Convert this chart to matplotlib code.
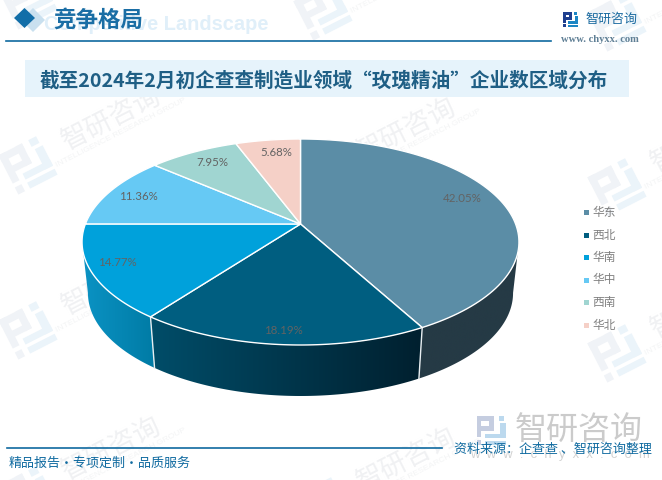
import numpy as np
import matplotlib
matplotlib.use('Agg')
import matplotlib.pyplot as plt
from matplotlib.colors import LinearSegmentedColormap
from matplotlib.patches import Polygon, Rectangle

plt.rcParams['font.family'] = ['Noto Sans CJK SC', 'DejaVu Sans']

# data
regions = ['华东', '西北', '华南', '华中', '西南', '华北']
shares = [42.05, 18.19, 14.77, 11.36, 7.95, 5.68]
top_colors = ['#5b8da6', '#005e80', '#00a1db', '#66c9f4', '#a0d5d1', '#f5d0c7']
title = '截至2024年2月初企查查制造业领域“玫瑰精油”企业数区域分布'
source = '资料来源：企查查 、智研咨询整理'
slogan = '精品报告·专项定制·品质服务'

# pie layout, in pixels of the reference
apex = (300.5, 224)
disc_a, disc_b, disc_k = 215.1, 99.86, -0.1747
depth = 51
bottom_scale = 0.973
label_xy = [(462, 198), (283, 331), (117, 263), (138, 197), (212, 163), (276, 153)]
legend_y = [212.3, 235, 257.3, 280, 302.3, 325]
side_colors = [('#253a45', '#253a45'), ('#004d69', '#00202f'), ('#0b93c4', '#007ba5')]

NAVY = '#0f6aa0'
fig = plt.figure(figsize=(6.62, 4.8), dpi=100)
ax = fig.add_axes([0, 0, 1, 1])


def px(size):
    return size * 0.72


def rim(deg):
    # perspective view of a circle, clockwise from 12 o'clock
    t = np.radians(deg)
    u, v = np.sin(t), -np.cos(t)
    w = 1 + disc_k * v
    return apex[0] + disc_a * u / w, apex[1] + disc_b * v / w


def rim_low(deg):
    x, y = rim(deg)
    return apex[0] + bottom_scale * (x - apex[0]), y + depth


def logo(cx, cy, size, c1, c2, rot=0.0, z=1):
    left = [(0, 0, .6, .17), (.43, 0, .17, .5), (.16, .35, .44, .15), (0, 0, .17, .72), (0, .82, .17, .18)]
    right = [(.76, 0, .2, .17), (.8, .25, .2, .52), (.3, .62, .7, .15), (.3, .85, .7, .15)]
    r = np.radians(rot)
    for rects, col in ((left, c1), (right, c2)):
        for x, y, w, h in rects:
            pts = np.array([(x, y), (x + w, y), (x + w, y + h), (x, y + h)]) - .5
            pts = pts * size
            xr = pts[:, 0] * np.cos(r) + pts[:, 1] * np.sin(r)
            yr = -pts[:, 0] * np.sin(r) + pts[:, 1] * np.cos(r)
            ax.add_patch(Polygon(np.c_[xr + cx, yr + cy], fc=col, ec='none', zorder=z))


# watermark tiles
for lx, ly in [(28, 0), (28, 165), (28, 330), (28, 495), (323, 11), (323, 176), (323, 341), (323, 506),
               (617, 22), (617, 187), (617, 353)]:
    logo(lx, ly, 44, '#f0f3f7', '#ebf4fa', rot=27)
    if ly > 100:
        ax.text(lx + 84, ly - 46, '智研咨询', fontsize=px(27), color='#f0f1f3', rotation=27,
                rotation_mode='anchor', ha='center', va='center', zorder=1)
    if ly > 5:
        ax.text(lx + 93, ly - 32, 'INTELLIGENCE RESEARCH GROUP', fontsize=px(8.5), color='#f3f4f5', rotation=27,
                rotation_mode='anchor', ha='center', va='center', family='Liberation Sans', zorder=1)

# header
ax.text(268, 24, 'Competitive Landscape', fontsize=px(20), fontweight='bold', color='#e0eff9',
        ha='right', va='center', family='Liberation Sans', zorder=2)
ax.add_patch(Polygon([(33, 8), (45, 20), (33, 32), (21, 20)], fc='#c9e0ef', ec='none', zorder=2))
ax.add_patch(Polygon([(24.5, 8), (35, 18), (24.5, 28), (14, 18)], fc='#126ea8', ec='none', zorder=3))
ax.text(53, 20, '竞争格局', fontsize=px(22.5), fontweight='bold', color='#1a6ea5', va='center', zorder=3)
ax.plot([6, 551], [40.5, 40.5], color=NAVY, lw=1.2, zorder=3)
logo(570.5, 19.5, 15, '#1f3f8f', '#1c86c4', z=3)
ax.text(586, 19, '智研咨询', fontsize=px(13), color='#1a6aa0', va='center', zorder=3)
ax.text(600, 39, 'www. chyxx. com', fontsize=px(10.5), color='#5f7f95', ha='center', va='center',
        family='Liberation Serif', fontweight='bold', zorder=3)

# title band
ax.add_patch(Rectangle((25, 60), 604, 37, fc='#e6f3fb', ec='none', zorder=3))
ax.text(323.5, 80.5, title, fontsize=px(19.6), fontweight='bold', color='#1f5f85', ha='center', va='center', zorder=4)

# pie sides first, then the top face over them
edges = np.concatenate([[0], np.cumsum(shares)]) * 3.6
scan = np.arange(0, 360, 0.5)
rim_x = np.array([rim(d)[0] for d in scan])
right_end, left_end = scan[rim_x.argmax()], scan[rim_x.argmin()]
side_spans = [(right_end, edges[1]), (edges[1], edges[2]), (edges[2], left_end)]
for (a, b), (c1, c2) in zip(side_spans, side_colors):
    deg = np.linspace(a, b, 120)
    top = np.array([rim(d) for d in deg])
    low = np.array([rim_low(d) for d in deg[::-1]])
    outline = np.r_[top, low]
    poly = Polygon(outline, fc='none', ec='none')
    ax.add_patch(poly)
    grad = np.linspace(0, 1, 256).reshape(1, -1)
    # gradient runs left to right across the piece
    cmap = LinearSegmentedColormap.from_list('side', [c1, c2])
    im = ax.imshow(grad, extent=(outline[:, 0].min(), outline[:, 0].max(), outline[:, 1].max(), outline[:, 1].min()),
                   aspect='auto', cmap=cmap, zorder=2, interpolation='bilinear')
    im.set_clip_path(poly)

for d in edges[1:3]:
    p, q = rim(d), rim_low(d)
    ax.plot([p[0], q[0]], [p[1], q[1]], color='#e8eef1', lw=1, zorder=3)

for i, share in enumerate(shares):
    deg = np.linspace(edges[i], edges[i + 1], 100)
    pts = [apex] + [rim(d) for d in deg]
    ax.add_patch(Polygon(pts, fc=top_colors[i], ec='white', lw=1, joinstyle='round', zorder=4))
    ax.text(label_xy[i][0], label_xy[i][1], '%.2f%%' % share, fontsize=px(11.5), color='#636363',
            ha='center', va='center', family='Lato', zorder=5)

# legend
for name, col, y in zip(regions, top_colors, legend_y):
    ax.add_patch(Rectangle((583.5, y - 2.5), 5, 5, fc=col, ec='none', zorder=5))
    ax.text(592, y, name, fontsize=px(11.7), color='#7f7f7f', va='center', zorder=5)

# footer
logo(491, 430.5, 29, '#c5cde0', '#bcd9ee', z=2)
ax.text(579, 430, '智研咨询', fontsize=px(32), color='#cbcbcb', ha='center', va='center', zorder=2)
ax.text(560, 455, 'w  w  w  .  c  h  y  x  x  .  c  o  m', fontsize=px(13), color='#d2d2d2', ha='center', va='center',
        family='Liberation Sans', zorder=2)
ax.plot([7, 442], [448.3, 448.3], color=NAVY, lw=1.2, zorder=3)
ax.text(9, 463, slogan, fontsize=px(13), color=NAVY, va='center', zorder=3)
ax.text(652, 449, source, fontsize=px(13), color=NAVY, ha='right', va='center', zorder=3)

ax.set_xlim(0, 662)
ax.set_ylim(480, 0)
ax.axis('off')
fig.savefig('out.png', dpi=100)
